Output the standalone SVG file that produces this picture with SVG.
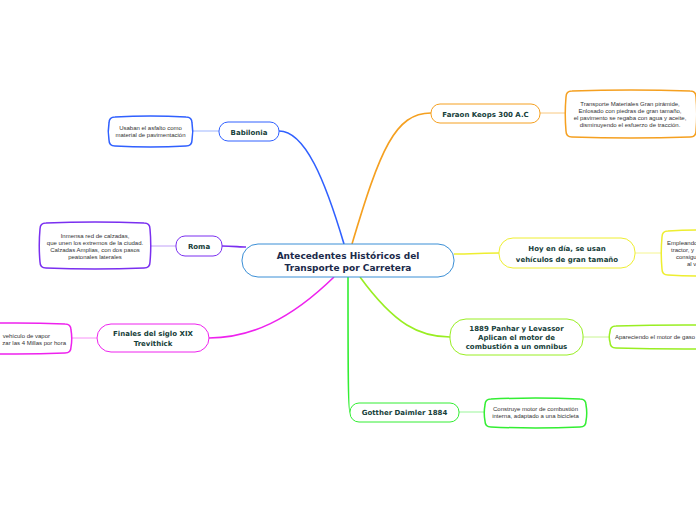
<svg xmlns="http://www.w3.org/2000/svg" width="696" height="520" viewBox="0 0 696 520">
<style>
.bg{fill:#fff}
.main{fill:#fff;stroke-width:1}
.sub{fill:#fff;stroke-width:1.5}
.t{font-family:"DejaVu Sans",Verdana,sans-serif;font-weight:bold;font-size:7px;fill:#16403a;text-anchor:middle}
.tc{font-family:"DejaVu Sans",Verdana,sans-serif;font-weight:bold;font-size:9px;fill:#1b2a4a;text-anchor:middle}
.s{font-family:"Liberation Sans",Arial,sans-serif;font-size:6px;fill:#333;text-anchor:middle}
.c{fill:none;stroke-width:1.6}
.cs{fill:none;stroke-width:1}
</style>
<rect class="bg" x="0" y="0" width="696" height="520"/>
<g id="connectors">
<path class="c" stroke="#3060ff" d="M279,131 C305,131 325,180 344,244"/>
<path class="c" stroke="#f5a020" d="M352,244 C380,150 395,113 431,113"/>
<path class="c" stroke="#7a2ff0" d="M222,246 C232,246 240,247 246,247"/>
<path class="c" stroke="#eeee30" d="M454,254 C470,254 485,253 499,253"/>
<path class="c" stroke="#ee22ee" d="M334,277 C290,320 250,338 209,338"/>
<path class="c" stroke="#99ee22" d="M360,277 C395,325 420,337 450,337"/>
<path class="c" stroke="#33ee33" d="M348,277 C348,350 348,412 350,412"/>
<path class="cs" stroke="#9db5ff" d="M192,131 L219,131"/>
<path class="cs" stroke="#f8c880" d="M540,113 L566,113"/>
<path class="cs" stroke="#c0a0f8" d="M150,246 L176,246"/>
<path class="cs" stroke="#f5f590" d="M635,253 L662,253"/>
<path class="cs" stroke="#f890f8" d="M71,338 L97,338"/>
<path class="cs" stroke="#c8f590" d="M583,337 L610,337"/>
<path class="cs" stroke="#99f599" d="M459,412 L485,412"/>
</g>
<g id="central">
<rect class="main" x="242" y="244" width="212" height="33" rx="16" stroke="#3b8fd6"/>
<text class="tc" x="348" y="259">Antecedentes Históricos del</text>
<text class="tc" x="348" y="271">Transporte por Carretera</text>
</g>
<g id="babilonia">
<rect class="main" x="219" y="122" width="60" height="19" rx="9" stroke="#3060ff"/>
<text class="t" x="249" y="134.5">Babilonia</text>
</g>
<g id="babilonia-sub">
<path class="sub" stroke="#3060ff" d="M115,117 Q150.5,115 186,117 Q192,117 192,123 Q193.5,131.5 192,140 Q192,146 186,146 Q150.5,148 115,146 Q109,146 109,140 Q107.5,131.5 109,123 Q109,117 115,117Z"/>
<text class="s" x="150.5" y="130">Usaban el asfalto como</text>
<text class="s" x="150.5" y="137">material de pavimentación</text>
</g>
<g id="faraon">
<rect class="main" x="431" y="104" width="109" height="19" rx="9" stroke="#f5a020"/>
<text class="t" x="485.5" y="116.5">Faraon Keops 300 A.C</text>
</g>
<g id="faraon-sub">
<path class="sub" stroke="#f5a020" d="M572,91 Q631,89 690,91 Q696,91 696,97 Q697.5,114 696,131 Q696,137 690,137 Q631,139 572,137 Q566,137 566,131 Q564.5,114 566,97 Q566,91 572,91Z"/>
<text class="s" x="630" y="106">Transporte Materiales Gran pirámide,</text>
<text class="s" x="630" y="113">Enlosado con piedras de gran tamaño,</text>
<text class="s" x="630" y="120">el pavimento se regaba con agua y aceite,</text>
<text class="s" x="630" y="127">disminuyendo el esfuerzo de tracción.</text>
</g>
<g id="roma">
<rect class="main" x="176" y="236" width="46" height="20" rx="9" stroke="#7a2ff0"/>
<text class="t" x="199" y="248.5">Roma</text>
</g>
<g id="roma-sub">
<path class="sub" stroke="#7a2ff0" d="M46,223 Q95,221 144,223 Q150,223 150,229 Q151.5,245.5 150,262 Q150,268 144,268 Q95,270 46,268 Q40,268 40,262 Q38.5,245.5 40,229 Q40,223 46,223Z"/>
<text class="s" x="95" y="238">Inmensa red de calzadas,</text>
<text class="s" x="95" y="245">que unen los extremos de la ciudad.</text>
<text class="s" x="95" y="252">Calzadas Amplias, con dos pasos</text>
<text class="s" x="95" y="259">peatonales laterales</text>
</g>
<g id="hoy">
<rect class="main" x="499" y="238" width="136" height="30" rx="14" stroke="#eeee30"/>
<text class="t" x="567" y="250.5">Hoy en día, se usan</text>
<text class="t" x="567" y="261.5">vehículos de gran tamaño</text>
</g>
<g id="hoy-sub">
<path class="sub" stroke="#eeee30" d="M668,231 Q696,229 724,231 Q730,231 730,237 Q731.5,253 730,269 Q730,275 724,275 Q696,277 668,275 Q662,275 662,269 Q660.5,253 662,237 Q662,231 668,231Z"/>
<text class="s" x="667" y="245" style="text-anchor:start">Empleando</text>
<text class="s" x="671" y="252" style="text-anchor:start">tractor, y</text>
<text class="s" x="676" y="259" style="text-anchor:start">consigui</text>
<text class="s" x="687" y="266" style="text-anchor:start">al v</text>
</g>
<g id="finales">
<rect class="main" x="97" y="324" width="112" height="28" rx="14" stroke="#ee22ee"/>
<text class="t" x="153" y="336">Finales del siglo XIX</text>
<text class="t" x="153" y="346">Trevithick</text>
</g>
<g id="finales-sub">
<path class="sub" stroke="#ee22ee" d="M-34,324 Q15.5,322 65,324 Q71,324 71,330 Q72.5,338.5 71,347 Q71,353 65,353 Q15.5,355 -34,353 Q-40,353 -40,347 Q-41.5,338.5 -40,330 Q-40,324 -34,324Z"/>
<text class="s" x="50" y="338" style="text-anchor:end">vehículo de vapor</text>
<text class="s" x="66" y="345" style="text-anchor:end">zar las 4 Millas por hora</text>
</g>
<g id="panhar">
<rect class="main" x="450" y="319" width="133" height="36" rx="16" stroke="#99ee22"/>
<text class="t" x="516.5" y="330.5">1889 Panhar y Levassor</text>
<text class="t" x="516.5" y="339.5">Aplican el motor de</text>
<text class="t" x="516.5" y="348.5">combustión a un omnibus</text>
</g>
<g id="panhar-sub">
<path class="sub" stroke="#99ee22" d="M616,326 Q685,324 754,326 Q760,326 760,332 Q761.5,337 760,342 Q760,348 754,348 Q685,350 616,348 Q610,348 610,342 Q608.5,337 610,332 Q610,326 616,326Z"/>
<text class="s" x="615" y="339" style="text-anchor:start">Apareciendo el motor de gaso</text>
</g>
<g id="daimler">
<rect class="main" x="350" y="403" width="109" height="19" rx="9" stroke="#33ee33"/>
<text class="t" x="404.5" y="415">Gotther Daimler 1884</text>
</g>
<g id="daimler-sub">
<path class="sub" stroke="#33ee33" d="M491,399 Q535.5,397 580,399 Q586,399 586,405 Q587.5,413 586,421 Q586,427 580,427 Q535.5,429 491,427 Q485,427 485,421 Q483.5,413 485,405 Q485,399 491,399Z"/>
<text class="s" x="535.5" y="411">Construye motor de combustión</text>
<text class="s" x="535.5" y="418">interna, adaptado a una bicicleta</text>
</g>
</svg>
